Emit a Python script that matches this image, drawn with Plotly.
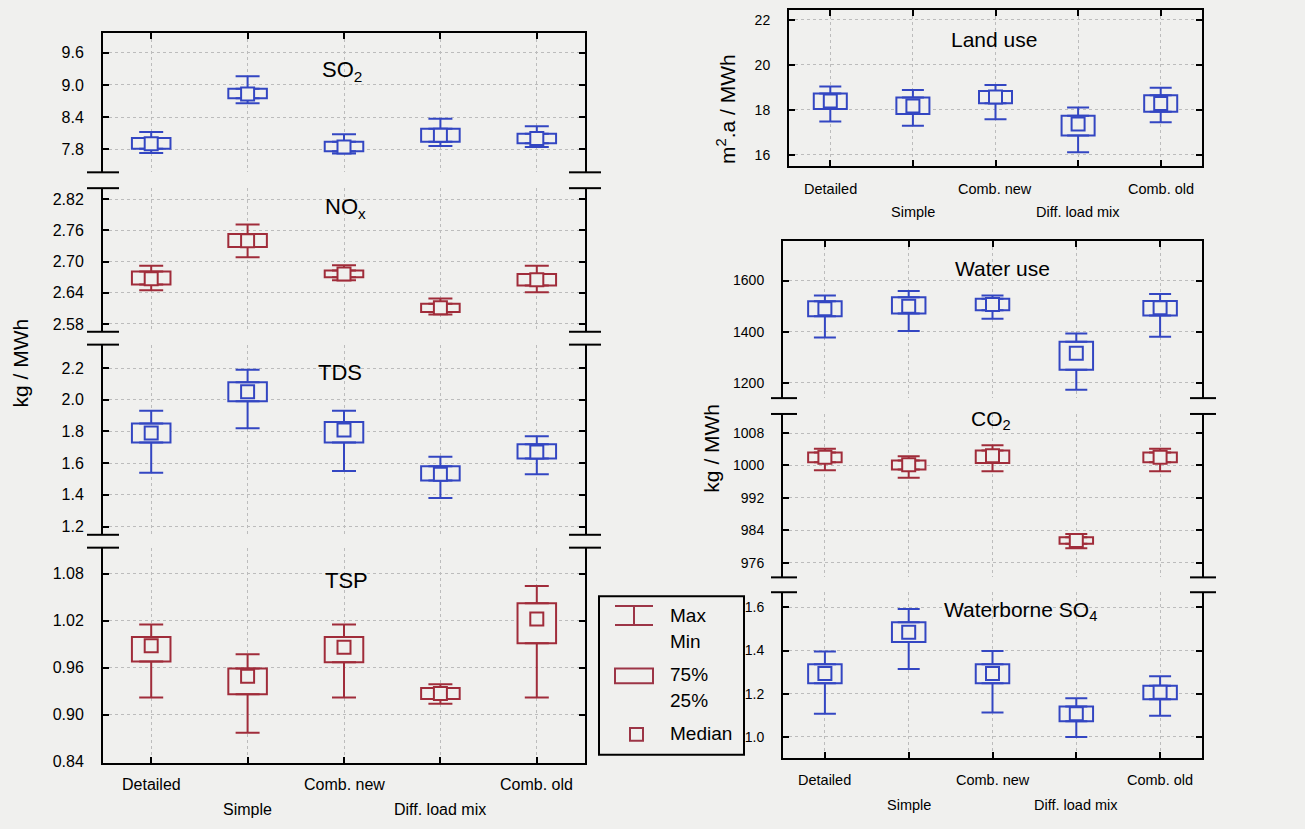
import plotly.graph_objects as go

W, H = 1305, 829
BG = "#f0f0ee"
BLUE = "#3346c2"
RED = "#a02c3a"
GRID = "#bcbcbc"
FONT = "Liberation Sans, Arial, sans-serif"

cats = ["Detailed", "Simple", "Comb. new", "Diff. load mix", "Comb. old"]
row1_cats = ["Detailed", "Comb. new", "Comb. old"]
row2_cats = ["Simple", "Diff. load mix"]

# ---- left panel (kg / MWh) ----
so2_max = [8.12, 9.16, 8.08, 8.37, 8.23]
so2_q3 = [8.01, 8.93, 7.94, 8.18, 8.09]
so2_med = [7.90, 8.83, 7.84, 8.06, 8.00]
so2_q1 = [7.81, 8.75, 7.76, 7.94, 7.91]
so2_min = [7.73, 8.66, 7.72, 7.86, 7.84]

nox_max = [2.692, 2.771, 2.693, 2.629, 2.692]
nox_q3 = [2.681, 2.753, 2.683, 2.619, 2.676]
nox_med = [2.667, 2.740, 2.676, 2.611, 2.665]
nox_q1 = [2.656, 2.728, 2.670, 2.603, 2.654]
nox_min = [2.645, 2.708, 2.664, 2.598, 2.641]

tds_max = [1.93, 2.19, 1.93, 1.64, 1.77]
tds_q3 = [1.85, 2.11, 1.86, 1.58, 1.72]
tds_med = [1.79, 2.05, 1.81, 1.53, 1.67]
tds_q1 = [1.73, 1.99, 1.73, 1.49, 1.63]
tds_min = [1.54, 1.82, 1.55, 1.38, 1.53]

tsp_max = [1.015, 0.977, 1.015, 0.939, 1.064]
tsp_q3 = [0.999, 0.959, 0.999, 0.934, 1.042]
tsp_med = [0.988, 0.949, 0.986, 0.927, 1.022]
tsp_q1 = [0.968, 0.926, 0.967, 0.920, 0.991]
tsp_min = [0.922, 0.877, 0.922, 0.914, 0.922]

# ---- right panels ----
land_max = [19.03, 18.88, 19.10, 18.10, 18.98]
land_q3 = [18.72, 18.54, 18.83, 17.73, 18.64]
land_med = [18.39, 18.17, 18.57, 17.36, 18.28]
land_q1 = [18.03, 17.81, 18.29, 16.85, 17.91]
land_min = [17.48, 17.29, 17.58, 16.11, 17.44]

water_max = [1542, 1559, 1542, 1393, 1548]
water_q3 = [1519, 1535, 1529, 1361, 1520]
water_med = [1490, 1500, 1507, 1316, 1494]
water_q1 = [1461, 1471, 1484, 1252, 1464]
water_min = [1378, 1403, 1451, 1174, 1381]

co2_max = [1004.1, 1002.3, 1005.0, 983.1, 1004.1]
co2_q3 = [1003.2, 1001.2, 1003.7, 982.3, 1003.2]
co2_med = [1002.0, 1000.2, 1002.4, 981.5, 1002.0]
co2_q1 = [1000.8, 999.0, 1000.6, 980.7, 1000.8]
co2_min = [998.8, 997.0, 998.6, 979.6, 998.6]

so4_max = [1.396, 1.592, 1.398, 1.179, 1.281]
so4_q3 = [1.336, 1.531, 1.336, 1.141, 1.237]
so4_med = [1.294, 1.485, 1.294, 1.107, 1.207]
so4_q1 = [1.248, 1.439, 1.248, 1.072, 1.174]
so4_min = [1.107, 1.314, 1.113, 1.000, 1.098]

# tick values
so2_ticks = [7.8, 8.4, 9.0, 9.6]
nox_ticks = [2.58, 2.64, 2.70, 2.76, 2.82]
tds_ticks = [1.2, 1.4, 1.6, 1.8, 2.0, 2.2]
tsp_ticks = [0.84, 0.90, 0.96, 1.02, 1.08]
land_ticks = [16, 18, 20, 22]
water_ticks = [1200, 1400, 1600]
co2_ticks = [976, 984, 992, 1000, 1008]
so4_ticks = [1.0, 1.2, 1.4, 1.6]


def fx(p):
    return p / W


def fy(p):
    return 1 - p / H


fig = go.Figure()


def add_panel(n, color, mx, q3, med, q1, mn, cap):
    xa = "x" if n == 1 else f"x{n}"
    ya = "y" if n == 1 else f"y{n}"
    fig.add_trace(go.Bar(x=cats, base=q1, y=[a - b for a, b in zip(q3, q1)], width=0.4,
                         marker=dict(color=BG, line=dict(color=color, width=2)),
                         xaxis=xa, yaxis=ya, showlegend=False, hoverinfo="skip"))
    fig.add_trace(go.Scatter(x=cats, y=q3, mode="markers",
                             marker=dict(size=1, color="rgba(0,0,0,0)"),
                             error_y=dict(type="data", symmetric=False,
                                          array=[a - b for a, b in zip(mx, q3)],
                                          arrayminus=[0] * len(cats),
                                          color=color, thickness=2, width=cap),
                             xaxis=xa, yaxis=ya, showlegend=False, hoverinfo="skip"))
    fig.add_trace(go.Scatter(x=cats, y=q1, mode="markers",
                             marker=dict(size=1, color="rgba(0,0,0,0)"),
                             error_y=dict(type="data", symmetric=False,
                                          array=[0] * len(cats),
                                          arrayminus=[a - b for a, b in zip(q1, mn)],
                                          color=color, thickness=2, width=cap),
                             xaxis=xa, yaxis=ya, showlegend=False, hoverinfo="skip"))
    fig.add_trace(go.Scatter(x=cats, y=med, mode="markers",
                             marker=dict(symbol="square", size=13, color=BG,
                                         line=dict(color=color, width=2)),
                             xaxis=xa, yaxis=ya, showlegend=False, hoverinfo="skip"))


add_panel(1, BLUE, so2_max, so2_q3, so2_med, so2_q1, so2_min, 12)
add_panel(2, RED, nox_max, nox_q3, nox_med, nox_q1, nox_min, 12)
add_panel(3, BLUE, tds_max, tds_q3, tds_med, tds_q1, tds_min, 12)
add_panel(4, RED, tsp_max, tsp_q3, tsp_med, tsp_q1, tsp_min, 12)
add_panel(5, BLUE, land_max, land_q3, land_med, land_q1, land_min, 11)
add_panel(6, BLUE, water_max, water_q3, water_med, water_q1, water_min, 11)
add_panel(7, RED, co2_max, co2_q3, co2_med, co2_q1, co2_min, 11)
add_panel(8, BLUE, so4_max, so4_q3, so4_med, so4_q1, so4_min, 11)

# geometry in pixels: (x span, ytop, ybottom, yrange, ticks, fmt, tickfont)
LX = (103, 585)
RX1 = (789, 1202)
RX2 = (783, 1202)
panels = {
    1: (LX, 33, 174, [7.369, 9.975], so2_ticks, "{:.1f}", 16),
    2: (LX, 190, 335, [2.565, 2.841], nox_ticks, "{:.2f}", 16),
    3: (LX, 348, 540, [1.148, 2.348], tds_ticks, "{:.1f}", 16),
    4: (LX, 553, 770, [0.839, 1.113], tsp_ticks, "{:.2f}", 16),
    5: (RX1, 10, 168, [15.48, 22.44], land_ticks, "{:d}", 14),
    6: (RX2, 243, 402, [1140.8, 1756], water_ticks, "{:d}", 14),
    7: (RX2, 418, 583, [972.4, 1012.7], co2_ticks, "{:d}", 14),
    8: (RX2, 598, 765, [0.904, 1.670], so4_ticks, "{:.1f}", 14),
}
xstyle = {1: "top", 2: None, 3: None, 4: "bottom", 5: "box", 6: "top", 7: None, 8: "bottom"}
# y pixel of the two rows of staggered category labels
label_rows = {4: (792, 817), 5: (191, 214), 8: (788, 813)}

layout = dict(
    width=W, height=H, margin=dict(l=0, r=0, t=0, b=0),
    paper_bgcolor=BG, plot_bgcolor=BG, barmode="overlay", showlegend=False,
    font=dict(family=FONT, color="black"),
)
ann = []
for n, (xr, yt, yb, rng, tv, fmt, tfs) in panels.items():
    xk = "xaxis" if n == 1 else f"xaxis{n}"
    yk = "yaxis" if n == 1 else f"yaxis{n}"
    ya = "y" if n == 1 else f"y{n}"
    xa = "x" if n == 1 else f"x{n}"
    st = xstyle[n]
    xfs = 16 if n <= 4 else 14.5
    xd = dict(domain=[fx(xr[0]), fx(xr[1])], anchor=ya, type="category",
              categoryorder="array", categoryarray=cats, range=[-0.5, 4.5],
              showgrid=True, gridcolor=GRID, griddash="dot", gridwidth=1,
              zeroline=False, fixedrange=True, showticklabels=False,
              tickmode="array", tickvals=cats)
    if st is None:
        xd.update(showline=False, ticks="")
    else:
        xd.update(showline=True, linecolor="black", linewidth=2, ticks="inside",
                  ticklen=6, tickwidth=2, tickcolor="black")
        if st == "top":
            xd.update(side="top")
        elif st == "box":
            xd.update(side="bottom", mirror="ticks")
        else:
            xd.update(side="bottom")
    if n in label_rows:
        for row_cats, ypx in zip((row1_cats, row2_cats), label_rows[n]):
            for c in row_cats:
                ann.append(dict(x=c, xref=xa, y=fy(ypx), yref="paper", text=c,
                                showarrow=False, xanchor="center", yanchor="middle",
                                font=dict(size=xfs, family=FONT, color="black")))
    layout[xk] = xd
    layout[yk] = dict(domain=[fy(yb), fy(yt)], anchor=xa, range=rng,
                      tickmode="array", tickvals=tv, ticktext=[fmt.format(v) for v in tv],
                      showline=True, linecolor="black", linewidth=2, mirror="ticks",
                      ticks="inside", ticklen=6, tickwidth=2, tickcolor="black",
                      ticklabelstandoff=14,
                      showgrid=True, gridcolor=GRID, griddash="dot", gridwidth=1,
                      zeroline=False, fixedrange=True,
                      tickfont=dict(size=tfs, family=FONT))
fig.update_layout(**layout)

shapes = []
# axis-break marks
for y in (174, 190, 335, 348, 540, 553):
    for xc in LX:
        shapes.append(dict(type="line", xref="paper", yref="paper",
                           x0=fx(xc - 16), x1=fx(xc + 16), y0=fy(y), y1=fy(y),
                           line=dict(color="black", width=2)))
for y in (402, 418, 583, 598):
    for xc in RX2:
        shapes.append(dict(type="line", xref="paper", yref="paper",
                           x0=fx(xc - 12), x1=fx(xc + 14), y0=fy(y), y1=fy(y),
                           line=dict(color="black", width=2)))
# legend box
LC = "#9c3546"
shapes.append(dict(type="rect", xref="paper", yref="paper", x0=fx(599), x1=fx(744),
                   y0=fy(762), y1=fy(602), line=dict(color="black", width=2), fillcolor=BG))
for (x0, y0, x1, y1) in [(615, 612, 653, 612), (615, 631, 653, 631), (634, 612, 634, 631)]:
    shapes.append(dict(type="line", xref="paper", yref="paper", x0=fx(x0), x1=fx(x1),
                       y0=fy(y0), y1=fy(y1), line=dict(color=LC, width=2)))
shapes.append(dict(type="rect", xref="paper", yref="paper", x0=fx(615), x1=fx(653),
                   y0=fy(690), y1=fy(675), line=dict(color=LC, width=2)))
shapes.append(dict(type="rect", xref="paper", yref="paper", x0=fx(630), x1=fx(643),
                   y0=fy(748), y1=fy(735), line=dict(color=LC, width=2)))
fig.update_layout(shapes=shapes)


def text(x, y, s, size, angle=0, xanchor="center"):
    ann.append(dict(x=fx(x), y=fy(y), xref="paper", yref="paper", text=s, showarrow=False,
                    xanchor=xanchor, yanchor="middle", textangle=angle,
                    font=dict(size=size, family=FONT, color="black")))


text(342, 72, "SO<sub>2</sub>", 22)
text(345, 210, "NO<sub>x</sub>", 22)
text(340, 376, "TDS", 22)
text(346, 586, "TSP", 22)
text(994, 40, "Land use", 21)
text(1002, 271, "Water use", 21)
text(991, 424, "CO<sub>2</sub>", 21)
text(1020, 617, "Waterborne SO<sub>4</sub>", 21)
text(20, 367, "kg / MWh", 21, -90)
text(712, 453, "kg / MWh", 21, -90)
text(726, 110, "m<sup>2</sup>.a / MWh", 21, -90)
for s, y in [("Max", 622), ("Min", 648), ("75%", 681), ("25%", 707), ("Median", 741)]:
    text(668, y, s, 19, 0, "left")
fig.update_layout(annotations=ann)

fig.write_html("out.html")
